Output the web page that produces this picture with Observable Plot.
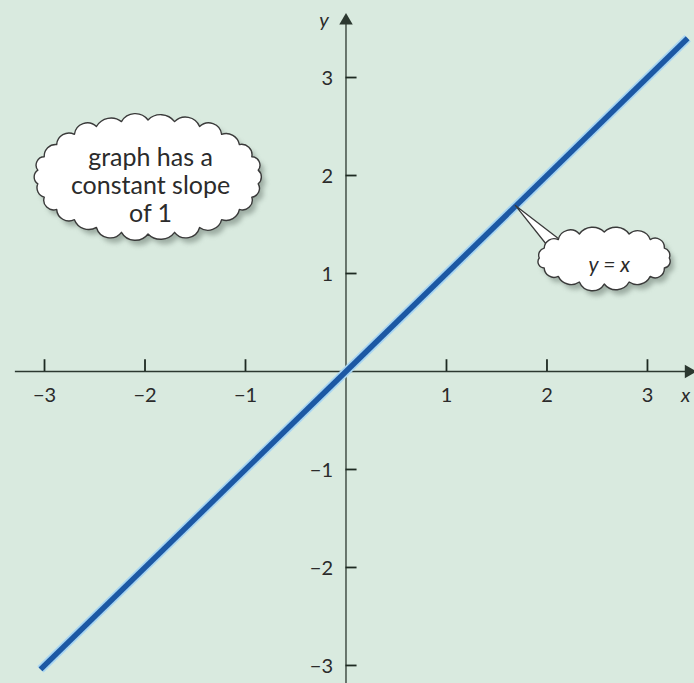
<!DOCTYPE html>
<html>
<head>
<meta charset="utf-8">
<script src="https://cdn.jsdelivr.net/npm/d3@7"></script>
<script src="https://cdn.jsdelivr.net/npm/@observablehq/plot@0.6"></script>
<style>
  html, body { margin: 0; padding: 0; background: #d9eadf; }
  #chart svg { display: block; }
</style>
</head>
<body>
<div id="chart"></div>
<script>
// Tick values on both axes (the origin is left unlabelled)
const xTicks = [-3, -2, -1, 1, 2, 3];
const yTicks = [-3, -2, -1, 1, 2, 3];

// The graph of y = x, drawn between these two x values
const lineX = [-3.04, 3.4];
const linePoints = lineX.map(x => ({x, y: x}));

// Callout texts
const noteSlope = "graph has a\nconstant slope\nof 1";
const noteEquation = "y = x";

const ink = "#2c3830";
const label = "#2b2b2b";
const minus = d => (d < 0 ? "\u2212" + (-d) : String(d));

// Scalloped outline around an ellipse, in pixels
function cloudPath(cx, cy, rx, ry, step) {
  const a = rx - 5, b = ry - 5;
  const per = Math.PI * (3 * (a + b) - Math.sqrt((3 * a + b) * (a + 3 * b)));
  const n = Math.max(8, Math.round(per / step));
  const pts = d3.range(n).map(i => {
    const t = (2 * Math.PI * i) / n - Math.PI / 2;
    return [cx + a * Math.cos(t), cy + b * Math.sin(t)];
  });
  let d = `M${pts[0][0]},${pts[0][1]}`;
  for (let i = 1; i <= n; i++) {
    const p = pts[i % n], q = pts[i - 1];
    const chord = Math.hypot(p[0] - q[0], p[1] - q[1]);
    const r = chord * (i % 3 === 0 ? 0.56 : i % 3 === 1 ? 0.66 : 0.6);
    d += `A${r},${r} 0 0 1 ${p[0]},${p[1]}`;
  }
  return d + "Z";
}

// A cloud-shaped callout, positioned through the chart's scales
function cloud({x, y, rx, ry, step, tail}) {
  return (index, scales) => {
    const cx = scales.x(x), cy = scales.y(y);
    const g = d3.create("svg:g");
    const id = "blur" + Math.round(cx) + "_" + Math.round(cy);
    g.append("defs").append("filter").attr("id", id)
      .attr("x", "-20%").attr("y", "-20%").attr("width", "140%").attr("height", "140%")
      .append("feGaussianBlur").attr("stdDeviation", 2.5);
    const d = cloudPath(cx, cy, rx, ry, step);
    g.append("path").attr("d", d).attr("transform", "translate(4,5)")
      .attr("fill", "#76857c").attr("opacity", 0.6).attr("filter", `url(#${id})`);
    if (tail) {
      const tx = scales.x(tail.x), ty = scales.y(tail.y);
      const pts = [[tx, ty], [cx + tail.b1[0], cy + tail.b1[1]], [cx + tail.b2[0], cy + tail.b2[1]]];
      g.append("polygon").attr("points", pts.map(p => p.join(",")).join(" "))
        .attr("fill", "#fff").attr("stroke", "#3a3a3a").attr("stroke-width", 1.3)
        .attr("stroke-linejoin", "round");
    }
    g.append("path").attr("d", d).attr("fill", "#fff")
      .attr("stroke", "#3a3a3a").attr("stroke-width", 1.4).attr("stroke-linejoin", "round");
    return g.node();
  };
}

const chart = Plot.plot({
  width: 694,
  height: 683,
  margin: 0,
  x: {domain: [-3.438, 3.468], axis: null},
  y: {domain: [-3.184, 3.786], axis: null},
  style: {background: "#d9eadf", fontFamily: "Lato, 'Open Sans', sans-serif", color: ink},
  marks: [
    // axes through the origin
    Plot.ruleY([0], {x1: -3.29, x2: 3.40, stroke: ink, strokeWidth: 1.3}),
    Plot.ruleX([0], {y1: -3.184, y2: 3.55, stroke: ink, strokeWidth: 1.3}),
    Plot.dot([0], {x: 3.41, y: 0, symbol: "triangle", r: 5, rotate: 90, fill: ink, stroke: null}),
    Plot.dot([0], {x: 0, y: 3.58, symbol: "triangle", r: 5, fill: ink, stroke: null}),
    // tick marks
    Plot.ruleX(xTicks, {x: d => d, y1: 0, y2: 0.12, stroke: "#1e2a22", strokeWidth: 1.8}),
    Plot.ruleY(yTicks, {y: d => d, x1: 0, x2: 0.11, stroke: "#1e2a22", strokeWidth: 1.8}),
    // tick labels
    Plot.text(xTicks, {x: d => d, y: 0, dy: 24, text: minus, fontSize: 20, fill: label}),
    Plot.text(yTicks, {x: 0, y: d => d, dx: -13, dy: 1, text: minus, textAnchor: "end", fontSize: 20, fill: label}),
    // axis names
    Plot.text(["y"], {x: 0, y: 3.6, dx: -22, dy: 2, text: d => d, fontStyle: "italic", fontSize: 20, fill: label}),
    Plot.text(["x"], {x: 3.38, y: 0, dy: 24, text: d => d, fontStyle: "italic", fontSize: 20, fill: label}),
    // y = x
    Plot.line(linePoints, {x: "x", y: "y", stroke: "#a9d6f2", strokeWidth: 9, strokeLinecap: "butt"}),
    Plot.line(linePoints, {x: "x", y: "y", stroke: "#1c58a4", strokeWidth: 5.5, strokeLinecap: "butt"}),
    // callouts
    cloud({x: -1.965, y: 1.98, rx: 116, ry: 62, step: 21}),
    Plot.text([noteSlope], {x: -1.945, y: 1.898, text: d => d, fontSize: 25, lineHeight: 1.12, fill: label}),
    cloud({x: 2.575, y: 1.153, rx: 70, ry: 31, step: 19,
           tail: {x: 1.69, y: 1.69, b1: [-55, -10], b2: [-44, -18]}}),
    Plot.text([noteEquation], {x: 2.62, y: 1.08, text: d => d, fontSize: 21, fontStyle: "italic", fill: label})
  ]
});

document.getElementById("chart").append(chart);
</script>
</body>
</html>
